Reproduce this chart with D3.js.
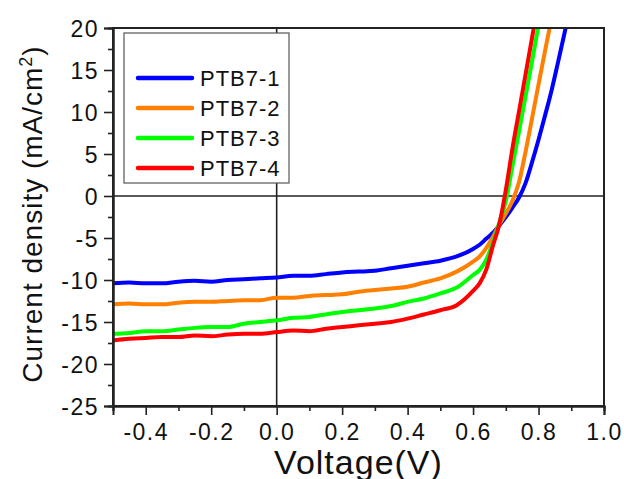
<!DOCTYPE html>
<html>
<head>
<meta charset="utf-8">
<script src="https://cdn.jsdelivr.net/npm/d3@7"></script>
<style>
  html, body { margin: 0; padding: 0; background: #fff; }
  svg { display: block; }
  text { font-family: "Liberation Sans", Arial, sans-serif; fill: #111; }
</style>
</head>
<body>
<svg id="chart" width="624" height="479"></svg>
<script>
// ---- data ----
const voltage = [-0.5, -0.45, -0.4, -0.35, -0.3, -0.25, -0.2, -0.15, -0.1, -0.05,
  0, 0.05, 0.1, 0.15, 0.2, 0.25, 0.3, 0.35, 0.4, 0.45, 0.5, 0.55,
  0.6, 0.62, 0.64, 0.66, 0.68, 0.70, 0.72, 0.74, 0.76, 0.78, 0.80, 0.82, 0.84, 0.86, 0.88, 0.90];

const ptb7_1 = [-10.4, -10.3, -10.4, -10.4, -10.2, -10.1, -10.2, -10.0, -9.9, -9.8,
  -9.7, -9.5, -9.5, -9.3, -9.1, -9.0, -8.9, -8.6, -8.3, -8.0, -7.7, -7.2,
  -6.3, -5.8, -5.1, -4.4, -3.5, -2.5, -1.4, -0.2, 1.5, 4.0, 6.7, 9.6, 12.6, 16.0, 19.5, 23.0];
const ptb7_2 = [-12.9, -12.8, -12.9, -12.9, -12.7, -12.6, -12.6, -12.5, -12.4, -12.4,
  -12.1, -12.1, -11.9, -11.8, -11.7, -11.4, -11.2, -11.0, -10.8, -10.3, -9.8, -9.0,
  -7.8, -7.2, -6.2, -4.9, -3.4, -2.1, -0.6, 1.6, 5.2, 9.2, 13.3, 17.3, 21.2, null, null, null];
const ptb7_3 = [-16.4, -16.3, -16.1, -16.1, -15.9, -15.7, -15.6, -15.6, -15.2, -15.0,
  -14.8, -14.5, -14.4, -14.1, -13.8, -13.6, -13.4, -13.1, -12.6, -12.2, -11.6, -10.9,
  -9.4, -8.8, -7.6, -5.6, -3.2, -0.6, 3.5, 7.6, 11.8, 16.0, 20.3, 24.5, null, null, null, null];
const ptb7_4 = [-17.2, -17.0, -16.9, -16.8, -16.8, -16.6, -16.7, -16.5, -16.4, -16.4,
  -16.2, -16.0, -16.1, -15.8, -15.6, -15.4, -15.2, -15.0, -14.6, -14.1, -13.6, -13.0,
  -11.3, -10.4, -8.8, -6.0, -3.4, 0.7, 5.6, 10.0, 14.4, 18.8, 23.2, null, null, null, null, null];

const seriesNames = ["PTB7-1", "PTB7-2", "PTB7-3", "PTB7-4"];
const seriesValues = [ptb7_1, ptb7_2, ptb7_3, ptb7_4];
const seriesColors = ["#0000ff", "#ff8000", "#00ff00", "#ff0000"];

const xMajorTicks = [-0.4, -0.2, 0.0, 0.2, 0.4, 0.6, 0.8, 1.0];
const xMinorTicks = [-0.5, -0.3, -0.1, 0.1, 0.3, 0.5, 0.7, 0.9];
const yMajorTicks = [-25, -20, -15, -10, -5, 0, 5, 10, 15, 20];
const yMinorTicks = [-22.5, -17.5, -12.5, -7.5, -2.5, 2.5, 7.5, 12.5, 17.5];

// ---- layout ----
const svg = d3.select("#chart");
const L = 113, R = 604, T = 28, B = 406;

const x = d3.scaleLinear().domain([-0.5, 1.0]).range([L, R]);
const y = d3.scaleLinear().domain([-25, 20]).range([B, T]);

svg.append("defs").append("clipPath").attr("id", "plotclip")
  .append("rect").attr("x", L).attr("y", T).attr("width", R - L).attr("height", B - T);

// zero lines
svg.append("line").attr("x1", L).attr("x2", R).attr("y1", y(0)).attr("y2", y(0))
  .attr("stroke", "#222").attr("stroke-width", 1.6);
svg.append("line").attr("x1", x(0)).attr("x2", x(0)).attr("y1", T).attr("y2", B)
  .attr("stroke", "#222").attr("stroke-width", 1.6);

// curves
const line = d3.line()
  .defined(d => d[1] != null)
  .x(d => x(d[0])).y(d => y(d[1]))
  .curve(d3.curveMonotoneX);

const gCurves = svg.append("g").attr("clip-path", "url(#plotclip)");
seriesValues.forEach((vals, i) => {
  const pts = voltage.map((v, k) => [v, vals[k]]);
  gCurves.append("path").datum(pts)
    .attr("d", line)
    .attr("fill", "none")
    .attr("stroke", seriesColors[i])
    .attr("stroke-width", 4)
    .attr("stroke-linejoin", "round");
});

// frame
svg.append("rect").attr("x", L).attr("y", T).attr("width", R - L).attr("height", B - T)
  .attr("fill", "none").attr("stroke", "#222").attr("stroke-width", 2);

// axes
const fmtX = d3.format(".1f");
const xAxis = d3.axisBottom(x).tickValues(xMajorTicks).tickSize(9).tickPadding(9)
  .tickFormat(d => fmtX(d).replace("−", "-"));
const gx = svg.append("g").attr("transform", `translate(0,${B})`).call(xAxis);
const gxm = svg.append("g").attr("transform", `translate(0,${B})`)
  .call(d3.axisBottom(x).tickValues(xMinorTicks).tickSize(5).tickFormat(""));

const yAxis = d3.axisLeft(y).tickValues(yMajorTicks).tickSize(9).tickPadding(5)
  .tickFormat(d => String(d));
const gy = svg.append("g").attr("transform", `translate(${L},0)`).call(yAxis);
const gym = svg.append("g").attr("transform", `translate(${L},0)`)
  .call(d3.axisLeft(y).tickValues(yMinorTicks).tickSize(5).tickFormat(""));

[gx, gxm, gy, gym].forEach(g => {
  g.select(".domain").attr("stroke", "#222").attr("stroke-width", 2);
  g.selectAll(".tick line").attr("stroke", "#222").attr("stroke-width", 1.6);
});
[gx, gy].forEach(g => {
  g.selectAll(".tick text")
    .attr("font-family", "'Liberation Sans', Arial, sans-serif")
    .attr("font-size", 23)
    .attr("letter-spacing", "1.5px")
    .attr("fill", "#111");
});
gx.selectAll(".tick text").attr("dy", "0.71em");
gy.selectAll(".tick text").attr("dy", "0.35em");

// axis titles
svg.append("text")
  .attr("x", (L + R) / 2 + 0)
  .attr("y", 474)
  .attr("text-anchor", "middle")
  .attr("font-size", 34)
  .attr("letter-spacing", "1px")
  .text("Voltage(V)");

const yt = svg.append("text")
  .attr("transform", `translate(42,${214}) rotate(-90)`)
  .attr("text-anchor", "middle")
  .attr("font-size", 28)
  .attr("letter-spacing", "1px");
yt.append("tspan").text("Current density (mA/cm");
yt.append("tspan").attr("baseline-shift", "super").attr("font-size", 18).text("2");
yt.append("tspan").text(")");

// legend
const lg = svg.append("g");
lg.append("rect").attr("x", 124).attr("y", 33).attr("width", 165).attr("height", 150)
  .attr("fill", "#fff").attr("stroke", "#555").attr("stroke-width", 1.2);
seriesNames.forEach((name, i) => {
  const ry = 78 + i * 30;
  lg.append("line").attr("x1", 138).attr("x2", 192).attr("y1", ry).attr("y2", ry)
    .attr("stroke", seriesColors[i]).attr("stroke-width", 4.5).attr("stroke-linecap", "round");
  lg.append("text").attr("x", 200).attr("y", ry + 8)
    .attr("font-size", 22).attr("letter-spacing", "1px").text(name);
});
</script>
</body>
</html>
